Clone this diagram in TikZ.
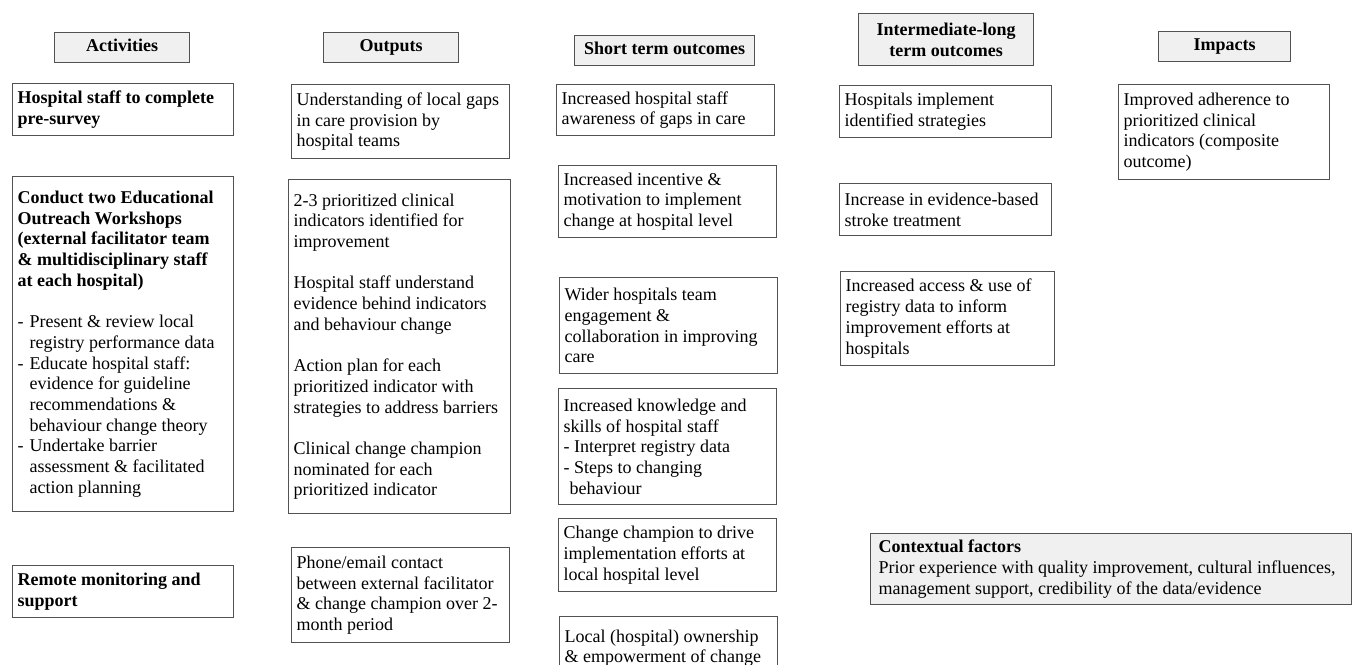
\documentclass[tikz,border=0pt]{standalone}
\usepackage{fontspec}
\setmainfont{Liberation Serif}
\tikzset{box/.style = {draw=black!68, line width=1.2pt, anchor=north west, align=flush left,
    inner xsep=5pt, inner ysep=3pt, font=\fontsize{18}{20.7}\selectfont},
  head/.style = {box, fill=black!6, align=center, inner sep=0pt,
    font=\fontsize{18}{20.7}\selectfont\bfseries},
  head1/.style = {head, text height=14pt, text depth=6pt}}
\newcommand{\itm}{\makebox[12pt][l]{-}}
\newcommand{\ind}{\hspace*{12pt}}

\begin{document}
\begin{tikzpicture}[x=1pt, y=-1pt]
  \useasboundingbox (0,0) rectangle (1357,664);
  \node[head1, minimum width=135pt, minimum height=30pt] (hact) at (54,32) {Activities};
  \node[head1, minimum width=135pt, minimum height=30pt] (hout) at (323,32) {Outputs};
  \node[head1, minimum width=180pt, minimum height=30pt] (hshort) at (574,35) {Short term outcomes};
  \node[head, minimum width=175pt, minimum height=52pt] (hinter) at (858,13) {Intermediate-long\\term outcomes};
  \node[head1, minimum width=132pt, minimum height=30pt] (himp) at (1158,31) {Impacts};

  \node[box, text width=211pt, minimum height=52pt] (survey) at (12,83)
    {\textbf{Hospital staff to complete}\\\textbf{pre-survey}};
  \node[box, text width=211pt, minimum height=335pt] (workshop) at (12,176)
    {\textbf{Conduct two Educational}\\\textbf{Outreach Workshops}\\
     \textbf{(external facilitator team}\\\textbf{\& multidisciplinary staff}\\
     \textbf{at each hospital)}\\[20.7pt]
     \itm Present \& review local\\\ind registry performance data\\
     \itm Educate hospital staff:\\\ind evidence for guideline\\
     \ind recommendations \&\\\ind behaviour change theory\\
     \itm Undertake barrier\\\ind assessment \& facilitated\\\ind action planning};
  \node[box, text width=211pt, minimum height=52pt] (remote) at (12,565)
    {\textbf{Remote monitoring and}\\\textbf{support}};

  \node[box, text width=208pt, minimum height=74pt] (gaps) at (291,84)
    {Understanding of local gaps\\in care provision by\\hospital teams};
  \node[box, text width=212pt, minimum height=334pt] (outmain) at (288,179)
    {2-3 prioritized clinical\\indicators identified for\\improvement\\[20.7pt]
     Hospital staff understand\\evidence behind indicators\\and behaviour change\\[20.7pt]
     Action plan for each\\prioritized indicator with\\strategies to address barriers\\[20.7pt]
     Clinical change champion\\nominated for each\\prioritized indicator};
  \node[box, text width=208pt, minimum height=95pt] (contact) at (291,547)
    {Phone/email contact\\between external facilitator\\\& change champion over 2-\\month period};

  \node[box, text width=208pt, minimum height=51pt] (aware) at (556,84)
    {Increased hospital staff\\awareness of gaps in care};
  \node[box, text width=208pt, minimum height=72pt] (incent) at (558,165)
    {Increased incentive \&\\motivation to implement\\change at hospital level};
  \node[box, text width=208pt, minimum height=96pt] (wider) at (559,277)
    {Wider hospitals team\\engagement \&\\collaboration in improving\\care};
  \node[box, text width=208pt, minimum height=116pt] (skills) at (558,388)
    {Increased knowledge and\\skills of hospital staff\\- Interpret registry data\\
     - Steps to changing\\\hspace*{6pt}behaviour};
  \node[box, text width=208pt, minimum height=73pt] (champ) at (558,518)
    {Change champion to drive\\implementation efforts at\\local hospital level};
  \node[box, text width=208pt, inner ysep=13pt] (owner) at (559,616)
    {Local (hospital) ownership\\\& empowerment of change};

  \node[box, text width=202pt, minimum height=52pt] (implement) at (839,85)
    {Hospitals implement\\identified strategies};
  \node[box, text width=202pt, minimum height=52pt] (evidence) at (839,183)
    {Increase in evidence-based\\stroke treatment};
  \node[box, text width=204pt, minimum height=94pt] (access) at (840,271)
    {Increased access \& use of\\registry data to inform\\improvement efforts at\\hospitals};

  \node[box, text width=201pt, minimum height=95pt] (adhere) at (1118,84)
    {Improved adherence to\\prioritized clinical\\indicators (composite\\outcome)};
  \node[box, fill=black!6, inner xsep=8pt, text width=465pt, minimum height=71pt] (context) at (870,533)
    {\textbf{Contextual factors}\\Prior experience with quality improvement, cultural influences,\\
     management support, credibility of the data/evidence};
\end{tikzpicture}
\end{document}
